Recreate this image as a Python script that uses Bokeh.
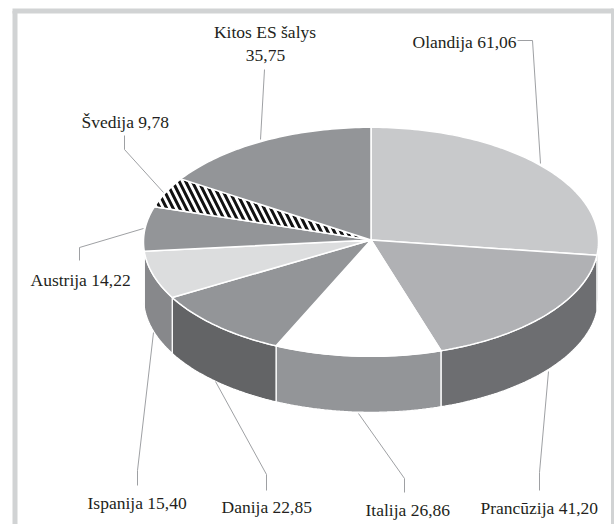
import math
from bokeh.plotting import figure
from bokeh.models import Range1d
from bokeh.core.properties import value
from bokeh.embed import file_html
from bokeh.resources import INLINE

# Data, clockwise from 12 o'clock
names = ["Olandija", "Prancūzija", "Italija", "Danija", "Ispanija", "Austrija", "Švedija", "Kitos ES šalys"]
shares = [61.06, 41.20, 26.86, 22.85, 15.40, 14.22, 9.78, 35.75]
top_colors = ["#c8c9cb", "#b0b1b4", "#ffffff", "#939598", "#dcddde", "#939598", "#ffffff", "#939598"]
side_colors = ["#6d6e71", "#6d6e71", "#939598", "#636466", "#87888b", "#87888b", "#939598", "#939598"]

# Layout (page pixels)
CX, CY, RX, RY, DEPTH = 370.5, 241.3, 227.5, 114.5, 56
APEX_Y = 239.5
FRAME = "#d1d3d4"
INK = "#231f20"
LEADER = "#939598"
FONT = "Liberation Serif"

p = figure(width=614, height=524, x_range=Range1d(0, 614), y_range=Range1d(524, 0),
           output_backend="svg", toolbar_location=None, min_border=0,
           outline_line_color=None, background_fill_color="white", border_fill_color="white")
p.axis.visible = False
p.grid.visible = False


def pt(deg, dy=0.0):
    a = math.radians(deg)
    return CX + RX * math.sin(a), CY - RY * math.cos(a) + dy


def arc(a0, a1, dy=0.0):
    n = max(2, int(abs(a1 - a0)) + 2)
    return [pt(a0 + (a1 - a0) * i / (n - 1), dy) for i in range(n)]


total = sum(shares)
edges = [0.0]
for s in shares:
    edges.append(edges[-1] + 360.0 * s / total)

# Side walls (only the part facing the viewer, 90..270 degrees)
for a0, a1, col in zip(edges[:-1], edges[1:], side_colors):
    lo, hi = max(a0, 90.0), min(a1, 270.0)
    if hi <= lo:
        continue
    pts = arc(lo, hi) + arc(hi, lo, DEPTH)
    p.patch([q[0] for q in pts], [q[1] for q in pts], fill_color=col, line_color="white", line_width=1.3)

# Top faces
for i, (a0, a1, col) in enumerate(zip(edges[:-1], edges[1:], top_colors)):
    pts = [(CX, APEX_Y)] + arc(a0, a1)
    kw = {}
    if names[i] == "Švedija":
        kw = dict(hatch_pattern="left_diagonal_line", hatch_color="#111111", hatch_scale=13, hatch_weight=3.0)
    p.patch([q[0] for q in pts], [q[1] for q in pts], fill_color=col, line_color="white",
            line_width=1.5, **kw)

# Frame
p.line([14.5, 14.5], [524, 10.5], line_color=FRAME, line_width=5)
p.line([12, 612.5], [10.5, 10.5], line_color=FRAME, line_width=5)
p.line([612.5, 612.5], [8, 524], line_color=FRAME, line_width=4)

# Leader lines
leaders = {
    "Olandija": ([517, 532, 540], [40, 40, 163]),
    "Prancūzija": ([548, 539, 539], [371, 472, 490]),
    "Italija": ([358, 404, 404], [413, 478, 492]),
    "Danija": ([215, 266, 266], [381, 474, 490]),
    "Ispanija": ([153, 137, 137], [332, 470, 485]),
    "Austrija": ([143, 79, 79], [228, 247, 260]),
    "Švedija": ([163, 124, 124], [192, 149, 135]),
    "Kitos ES šalys": ([260, 264], [139, 69]),
}
for n in names:
    xs, ys = leaders[n]
    p.line(xs, ys, line_color=LEADER, line_width=0.9)

# Labels: left x, vertical middle
label_pos = {
    "Olandija": (412, 41),
    "Prancūzija": (480, 507),
    "Italija": (365, 509),
    "Danija": (221, 506),
    "Ispanija": (87, 502),
    "Austrija": (30, 279),
    "Švedija": (81, 121),
}
fmt = lambda v: f"{v:.2f}".replace(".", ",")
for n, v in zip(names, shares):
    if n in label_pos:
        x, y = label_pos[n]
        p.text([x], [y], text=[f"{n} {fmt(v)}"], text_font=value(FONT), text_font_size="17.5px",
               text_color=INK, text_align="left", text_baseline="middle")
    else:
        p.text([264.5, 265], [31, 55], text=[n, fmt(v)], text_font=value(FONT), text_font_size="17.5px",
               text_color=INK, text_align="center", text_baseline="middle")

open("out.html", "w").write(file_html(p, INLINE))
